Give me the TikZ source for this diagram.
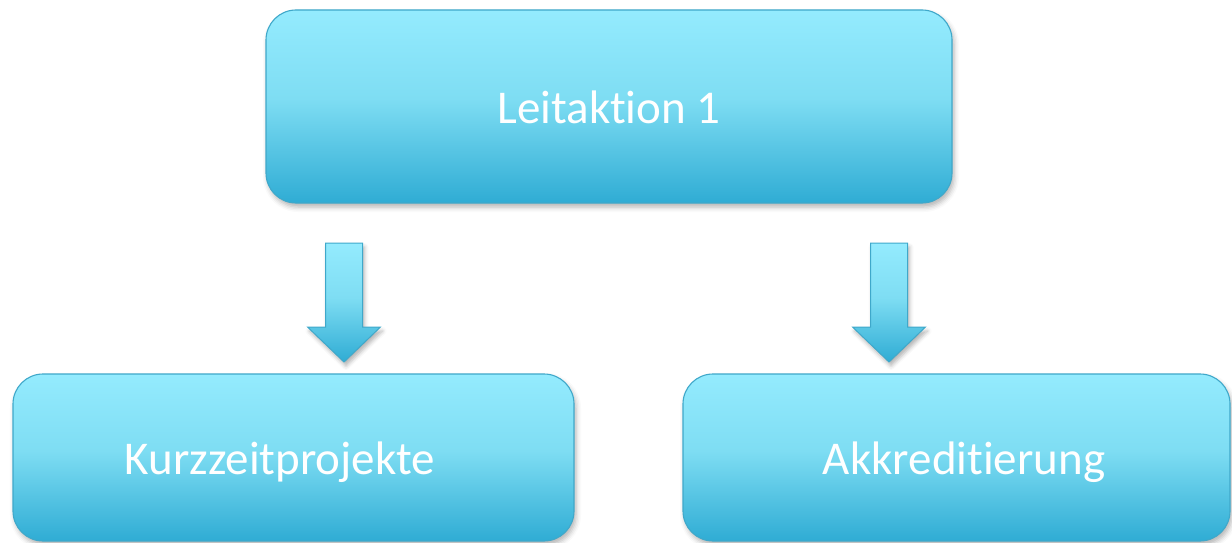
\documentclass[tikz,border=0pt]{standalone}
\usepackage{fontspec}
\setmainfont[Ligatures={NoCommon,NoRare,NoContextual}]{Carlito}
\usetikzlibrary{shadows.blur}

\definecolor{boxlight}{HTML}{94EBFE}
\definecolor{boxmid}{HTML}{7EDDF3}
\definecolor{boxdark}{HTML}{2FACD4}
\definecolor{boxedge}{HTML}{3FA8CA}

% light cyan at the top, deeper blue at the bottom
\pgfdeclareverticalshading{cyanfade}{100bp}{%
  color(0bp)=(boxdark); color(25bp)=(boxdark); color(52bp)=(boxmid);
  color(75bp)=(boxlight); color(100bp)=(boxlight)}

\tikzset{
  panel/.style={draw=boxedge, line width=1.1pt, shading=cyanfade,
    rounded corners=30pt, inner sep=0pt, text=white,
    font=\fontsize{47}{56}\selectfont, text height=33pt, text depth=0pt,
    blur shadow={shadow xshift=2pt, shadow yshift=-4pt,
      shadow blur radius=5pt, shadow opacity=30}},
  blockarrow/.style={draw=boxedge, line width=1pt, shading=cyanfade,
    line join=miter,
    blur shadow={shadow xshift=2pt, shadow yshift=-4pt,
      shadow blur radius=4pt, shadow opacity=30}}
}

\begin{document}
\begin{tikzpicture}[x=1pt,y=-1pt]
\useasboundingbox (0,0) rectangle (1232,543);

\node[panel, minimum width=686pt, minimum height=193pt] (top) at (609,106.5) {Leitaktion 1};
\node[panel, minimum width=561pt, minimum height=167pt] (left) at (293.5,457.5) {\hspace*{-27pt}Kurzzeitprojekte};
\node[panel, minimum width=547pt, minimum height=167pt] (right) at (956.5,457.5) {Akkreditierung\hspace*{-15pt}};

% broad down arrows between the levels: shaft 37 wide, head 73 wide
\foreach \x/\name in {344/arrL, 889/arrR}{
  \coordinate (\name) at (\x,243);
  \path[blockarrow] ([xshift=-18.5pt]\name) -- ([xshift=18.5pt]\name)
    -- ++(0,84) -- ++(18,0) -- ([yshift=-119pt]\name) -- ++(-36.5,-35)
    -- ++(18,0) -- cycle;
}
\end{tikzpicture}
\end{document}
